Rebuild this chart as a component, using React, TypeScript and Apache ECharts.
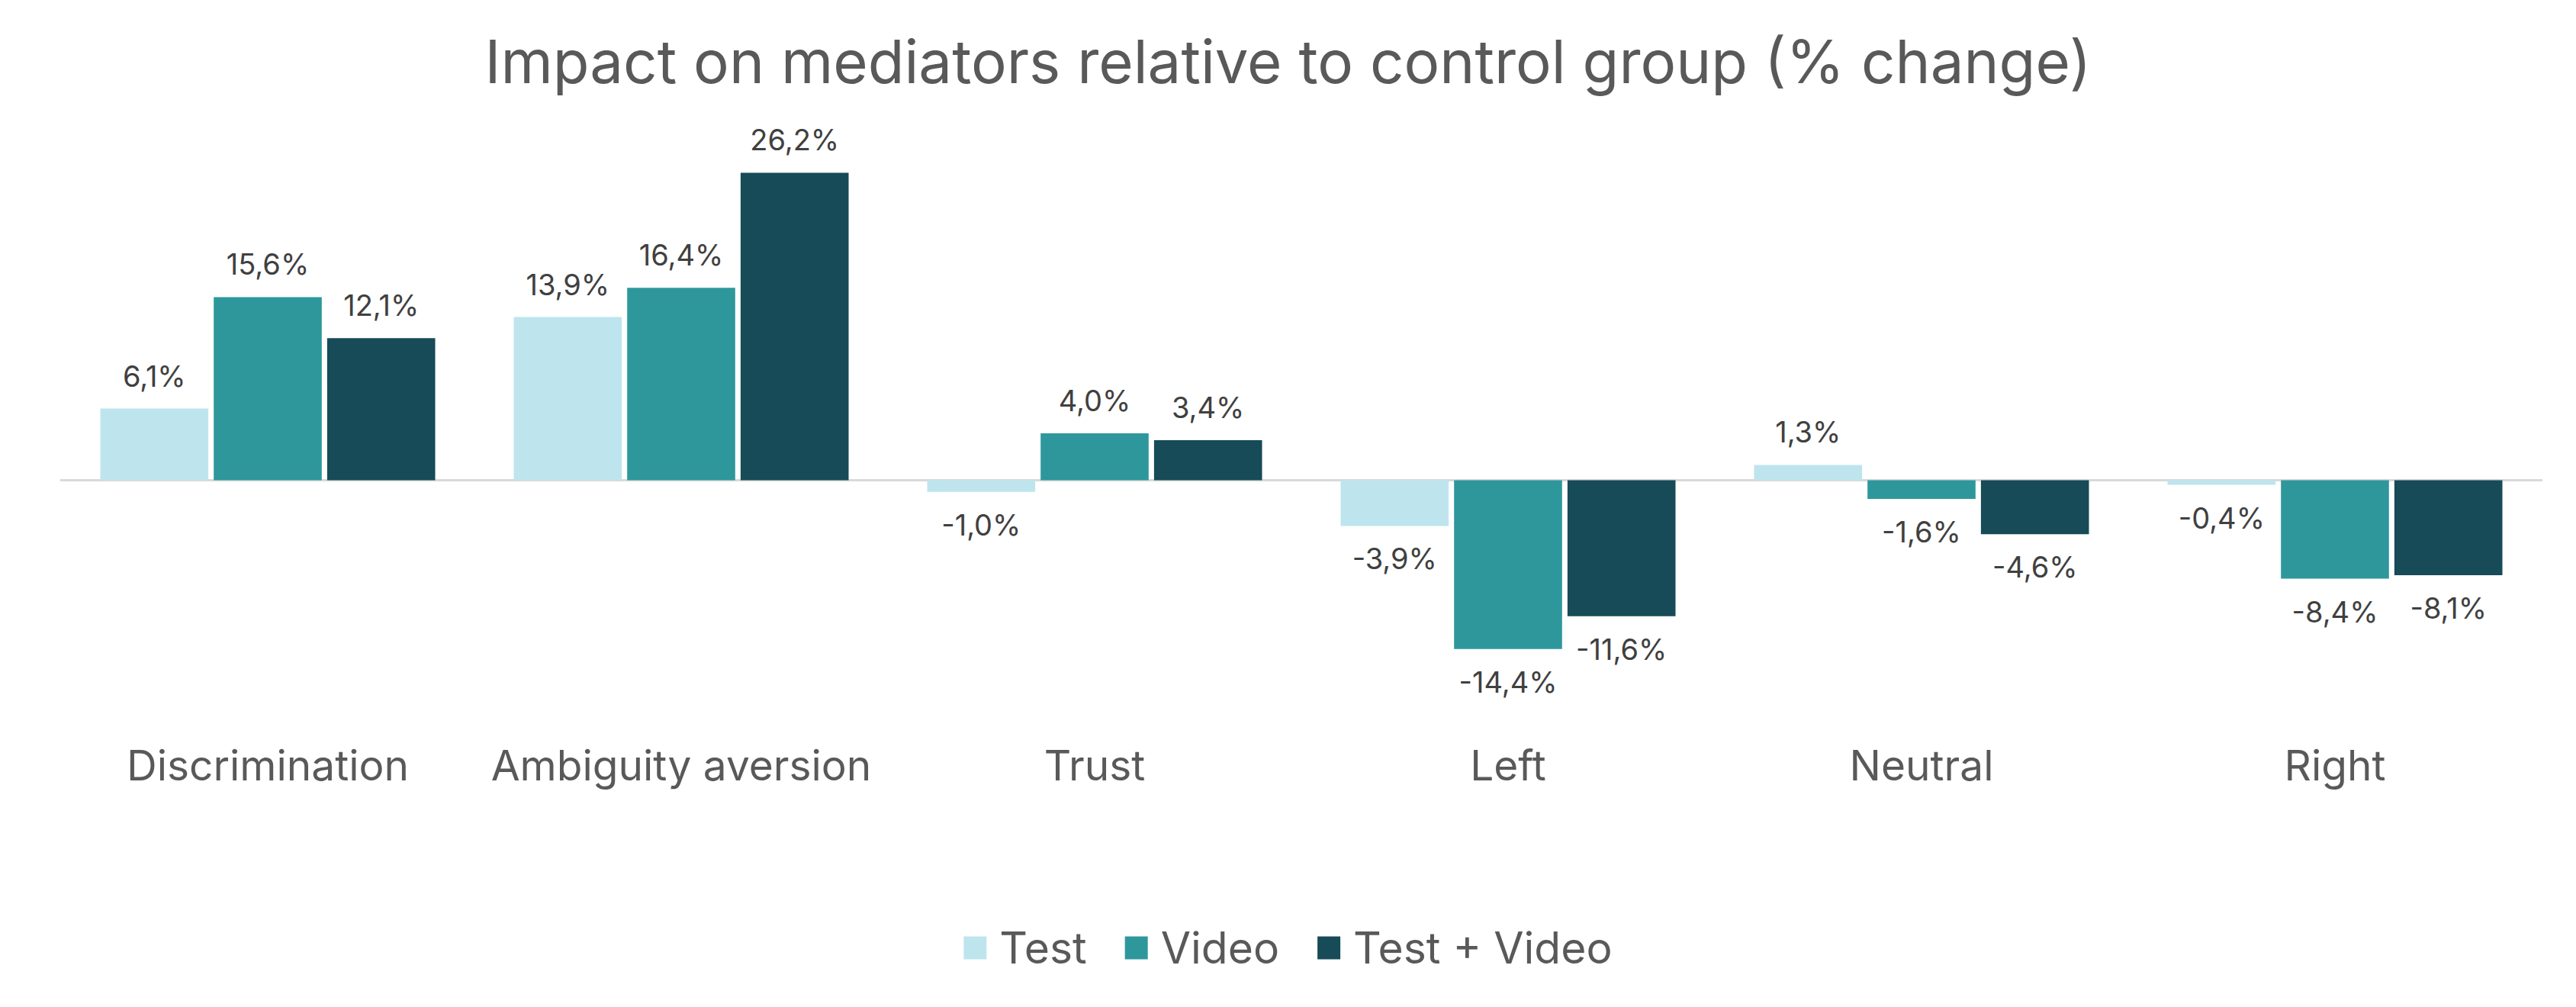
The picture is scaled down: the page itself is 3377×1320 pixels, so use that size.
import React, { useEffect, useRef } from "react";
import * as echarts from "echarts";

// Mediators measured, and the % change of each treatment against the control group
const categories = ["Discrimination", "Ambiguity aversion", "Trust", "Left", "Neutral", "Right"];
const seriesNames = ["Test", "Video", "Test + Video"];
const testValues = [6.1, 13.9, -1.0, -3.9, 1.3, -0.4];
const videoValues = [15.6, 16.4, 4.0, -14.4, -1.6, -8.4];
const testVideoValues = [12.1, 26.2, 3.4, -11.6, -4.6, -8.1];
const colors = ["#BEE5ED", "#2E979C", "#164B57"];

const FONT = "Inter, 'Noto Sans', sans-serif";

const fmt = (v: number) => v.toFixed(1).replace(".", ",") + "%";

function buildSeries(name: string, values: number[], color: string) {
  return {
    name,
    type: "bar",
    xAxisIndex: 0,
    barGap: "5%",
    barCategoryGap: "19%",
    itemStyle: { color },
    data: values.map((v) => ({
      value: v,
      label: { position: v < 0 ? "bottom" : "top" },
    })),
    label: {
      show: true,
      distance: 24,
      formatter: (p: any) => fmt(p.value),
      fontFamily: FONT,
      fontSize: 38,
      color: "#404040",
    },
  };
}

export default function App() {
  const ref = useRef<HTMLDivElement>(null);

  useEffect(() => {
    document.body.style.margin = "0";
    if (!ref.current) return;
    const chart = echarts.init(ref.current, undefined, { renderer: "svg" });
    chart.setOption({
      animation: false,
      backgroundColor: "#ffffff",
      title: {
        text: "Impact on mediators relative to control group (% change)",
        left: "center",
        top: 36,
        textStyle: { fontFamily: FONT, fontSize: 78, fontWeight: "normal", color: "#595959" },
      },
      legend: {
        data: seriesNames,
        bottom: 44,
        left: "center",
        icon: "rect",
        itemWidth: 30,
        itemHeight: 30,
        itemGap: 50,
        textStyle: { fontFamily: FONT, fontSize: 57, color: "#595959", padding: [0, 0, 0, 12] },
      },
      grid: { left: 80, right: 45, top: 168, bottom: 383 },
      xAxis: [
        {
          type: "category",
          data: categories,
          position: "bottom",
          axisLine: { show: false, onZero: false },
          axisTick: { show: false },
          axisLabel: { interval: 0, margin: 38, fontFamily: FONT, fontSize: 55, color: "#595959" },
        },
        {
          // zero baseline
          type: "category",
          data: categories,
          axisLine: { show: true, onZero: true, lineStyle: { color: "#D9D9D9", width: 3 } },
          axisTick: { show: false },
          axisLabel: { show: false },
        },
      ],
      yAxis: {
        type: "value",
        min: -20,
        max: 30,
        show: false,
        splitLine: { show: false },
      },
      series: [
        buildSeries(seriesNames[0], testValues, colors[0]),
        buildSeries(seriesNames[1], videoValues, colors[1]),
        buildSeries(seriesNames[2], testVideoValues, colors[2]),
      ],
    });
    return () => chart.dispose();
  }, []);

  return <div ref={ref} style={{ width: 3377, height: 1320 }} />;
}
